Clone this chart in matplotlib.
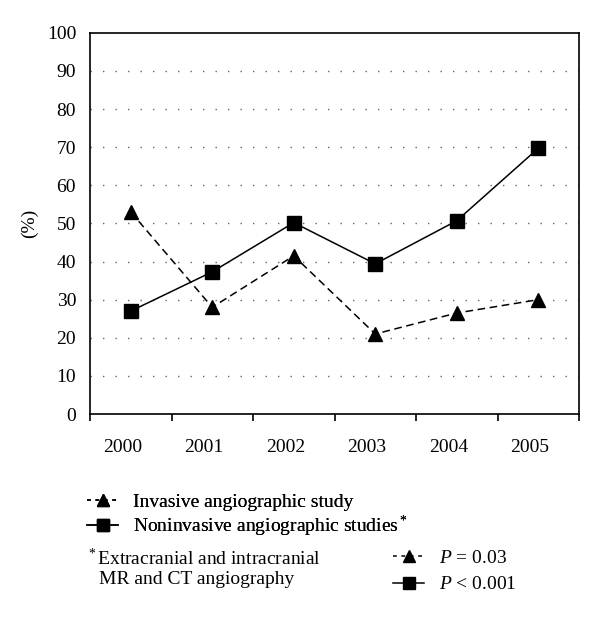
import matplotlib.pyplot as plt
from matplotlib.lines import Line2D

years = ['2000', '2001', '2002', '2003', '2004', '2005']
invasive = [53, 28, 41.5, 21, 26.5, 30]
noninvasive = [27, 37.3, 50.2, 39.4, 50.7, 69.7]

plt.rcParams['font.family'] = ['Liberation Serif', 'DejaVu Serif']
plt.rcParams['font.size'] = 14
plt.rcParams['mathtext.fontset'] = 'custom'
plt.rcParams['mathtext.rm'] = 'Liberation Serif'
plt.rcParams['mathtext.it'] = 'Liberation Serif:italic'

fig = plt.figure(figsize=(6, 6.18), dpi=100)
ax = fig.add_axes([0.15, 0.33, 0.815, 0.617])

x = list(range(len(years)))
inv_style = dict(color='black', linestyle=(0, (5, 3)), linewidth=1.1,
                 marker='^', markersize=10)
non_style = dict(color='black', linestyle='-', linewidth=1.1,
                 marker='s', markersize=9.5)
ax.plot(x, invasive, **inv_style)
ax.plot(x, noninvasive, **non_style)

ax.set_xlim(-0.5, len(years) - 0.5)
ax.set_ylim(0, 100)
ax.set_yticks(range(0, 101, 10))
for yv in range(10, 100, 10):
    ax.axhline(yv, color='#666666', linestyle=(0, (1, 8)), linewidth=1.0, zorder=0)

# ticks at category boundaries, labels at centres
ax.set_xticks([i - 0.5 for i in range(len(years) + 1)])
ax.set_xticklabels([])
ax.set_xticks([i - 0.1 for i in x], minor=True)
ax.set_xticklabels(years, minor=True)
ax.tick_params(axis='x', which='major', direction='out', length=5, width=1.2)
ax.tick_params(axis='x', which='minor', length=0, pad=18)
ax.tick_params(axis='y', length=0, pad=10)
for s in ax.spines.values():
    s.set_linewidth(1.2)

ax.set_ylabel('(%)', labelpad=6)

h_tri = Line2D([], [], color='black', linestyle=(0, (2.5, 3)), linewidth=1.1,
               marker='^', markersize=8.5)
h_sq = Line2D([], [], color='black', linestyle='-', linewidth=1.1,
              marker='s', markersize=8)

leg1 = fig.legend([h_tri, h_sq],
                  ['Invasive angiographic study', 'Noninvasive angiographic studies$^*$'],
                  loc='upper left', bbox_to_anchor=(0.145, 0.202), frameon=False,
                  handlelength=1.6, handletextpad=0.75, labelspacing=0.15,
                  borderaxespad=0, borderpad=0)
fig.add_artist(leg1)
fig.legend([h_tri, h_sq], ['$P$ = 0.03', '$P$ < 0.001'],
           loc='upper left', bbox_to_anchor=(0.655, 0.111), frameon=False,
           handlelength=1.6, handletextpad=0.75, labelspacing=0.45,
           borderaxespad=0, borderpad=0)

fig.text(0.143, 1 - 558 / 618, '$^*$Extracranial and intracranial',
         ha='left', va='center')
fig.text(0.165, 1 - 580 / 618, 'MR and CT angiography',
         ha='left', va='center')

fig.savefig('out.png')
